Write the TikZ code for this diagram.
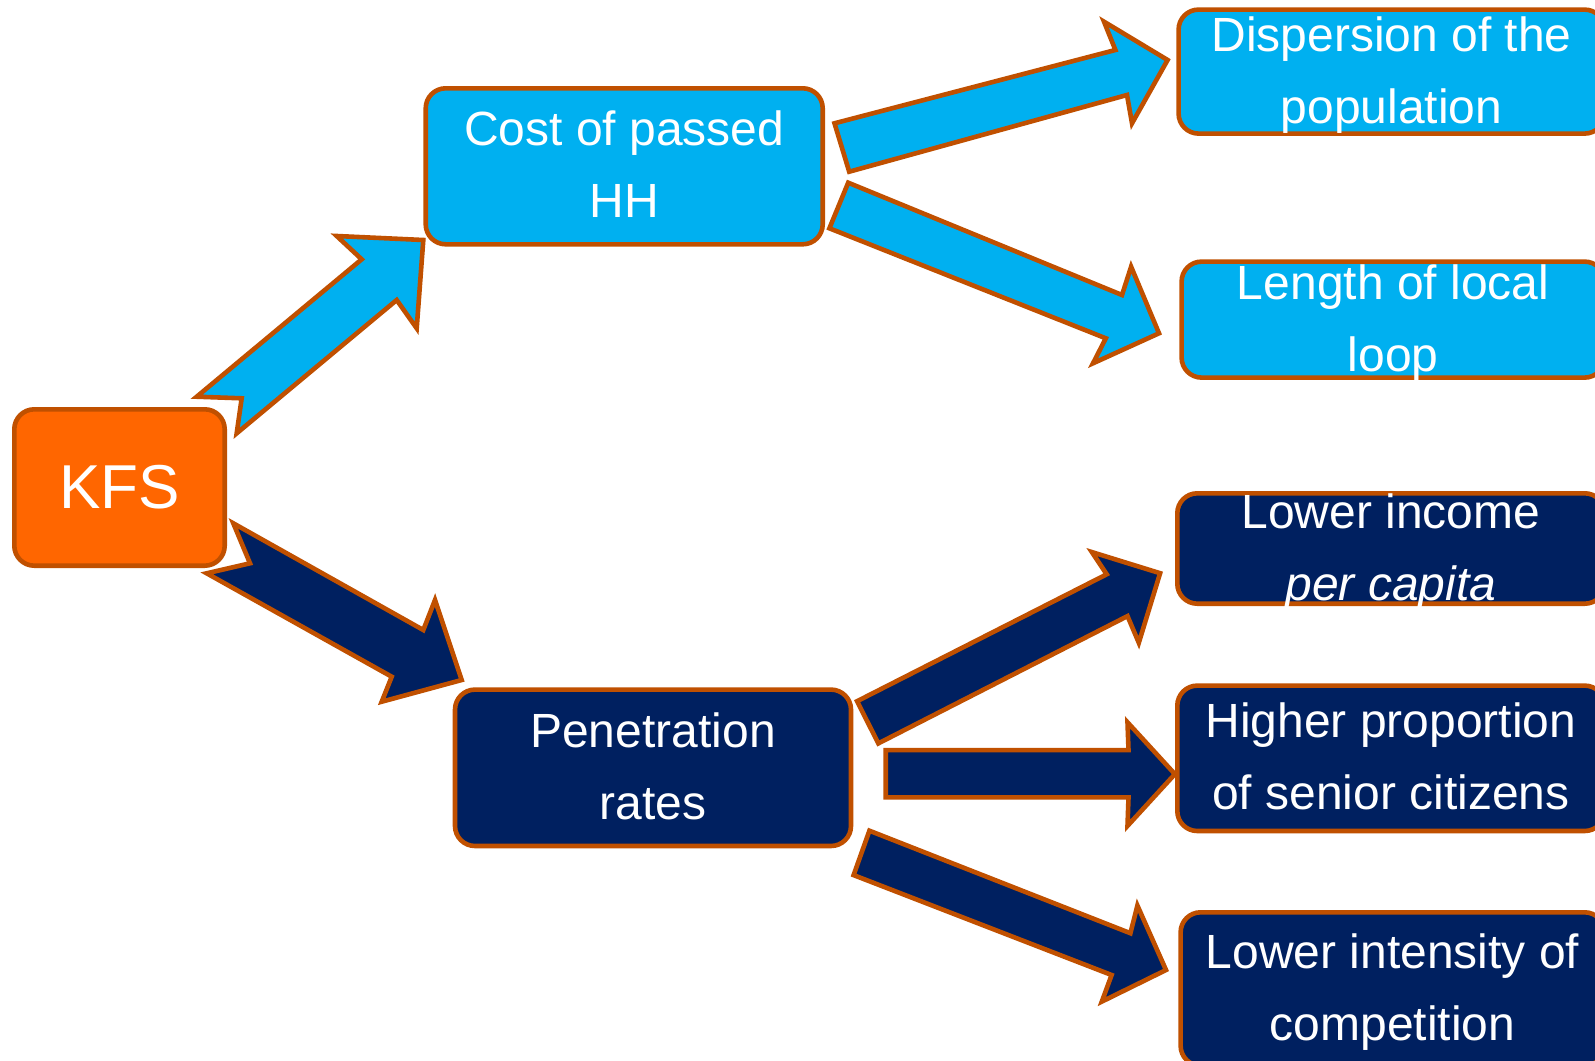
\documentclass[tikz,border=0pt]{standalone}
\usepackage{fontspec}
\setmainfont{Liberation Sans}
\definecolor{edgebrown}{HTML}{C05000}
\definecolor{skyfill}{HTML}{00B0F0}
\definecolor{navyfill}{HTML}{002060}
\definecolor{kfsorange}{HTML}{FF6600}
% two centred lines with a fixed line box (first-line height, last-line depth)
\newcommand\twolines[2]{\rule{0pt}{41pt}#1\\#2\rule[-10pt]{0pt}{10pt}}
\begin{document}
\begin{tikzpicture}[x=1pt,y=-1pt,
  box/.style={draw=edgebrown, line width=4.6pt, rounded corners=20pt, inner sep=0pt},
  skybox/.style={box, fill=skyfill},
  navybox/.style={box, fill=navyfill},
  caption/.style={inner sep=0pt, text=white, align=center, font=\fontsize{48}{72}\selectfont},
  blockarrow/.style={draw=edgebrown, line width=4.6pt, line join=miter, miter limit=10},
  skyarrow/.style={blockarrow, fill=skyfill},
  navyarrow/.style={blockarrow, fill=navyfill}]
\useasboundingbox (0,0) rectangle (1595,1060);
\fill[white] (0,0) rectangle (1595,1060);
\clip (0,0) rectangle (1595,1060);

% boxes
\node[box, fill=kfsorange, minimum width=210.4pt, minimum height=156.4pt] (kfs) at (119.5,487.5) {};
\node[skybox, minimum width=397pt, minimum height=156pt] (cost) at (624.2,166.3) {};
\node[navybox, minimum width=396pt, minimum height=156.4pt] (pen) at (653,767.8) {};
\node[skybox, minimum width=426pt, minimum height=124pt] (disp) at (1391.6,71.6) {};
\node[skybox, minimum width=423pt, minimum height=116pt] (loop) at (1393.1,319.6) {};
\node[navybox, minimum width=427.4pt, minimum height=110.4pt] (income) at (1391,548.5) {};
\node[navybox, minimum width=427.4pt, minimum height=145.4pt] (senior) at (1391,758.3) {};
\node[navybox, minimum width=424pt, minimum height=153.4pt] (compet) at (1392.6,989) {};

% box texts
\node[caption, font=\fontsize{62}{72}\selectfont] (kfs-t) at (kfs.center) {KFS};
\node[caption] (cost-t) at (cost.center) {\twolines{Cost of passed}{HH}};
\node[caption] (pen-t) at (pen.center) {\twolines{Penetration}{rates}};
\node[caption] (disp-t) at (disp.center) {\twolines{Dispersion of the}{population}};
\node[caption] (loop-t) at (loop.center) {\twolines{Length of local}{loop}};
\node[caption] (income-t) at (income.center) {\twolines{Lower income}{\textit{per capita}}};
\node[caption] (senior-t) at (senior.center) {\twolines{Higher proportion}{of senior citizens}};
\node[caption] (compet-t) at (compet.center) {\twolines{Lower intensity of}{competition}};

% block arrows: KFS to the two drivers
\draw[skyarrow] (196.7,396.7) -- (361.7,259.3) -- (336.7,236) -- (423.3,240)
  -- (416.7,328.3) -- (396.7,300) -- (236.7,433.3) -- (241.7,398.3) -- cycle;
\draw[navyarrow] (233.3,523.3) -- (423.3,630) -- (435,600) -- (461.7,680)
  -- (381.7,701.7) -- (391.7,676.7) -- (206.7,573.3) -- (250,563.3) -- cycle;

% block arrows: cost of passed HH
\draw[skyarrow] (834.5,123.3) -- (1115.4,50) -- (1104,21.7) -- (1167.6,60)
  -- (1132,123.3) -- (1127,95) -- (849.2,171.7) -- cycle;
\draw[skyarrow] (848.2,182.7) -- (1122,295) -- (1131.1,266.7) -- (1159,333.3)
  -- (1093,363.3) -- (1105.8,338.3) -- (829.4,228.3) -- cycle;

% block arrows: penetration rates
\draw[navyarrow] (857.1,701.2) -- (1106.7,574.3) -- (1091.9,552.1) -- (1160.1,573.2)
  -- (1138.8,642.8) -- (1127.5,616.1) -- (878.3,743.4) -- cycle;
\draw[navyarrow] (885.7,750.1) -- (1128.5,750.1) -- (1127.5,722.3) -- (1174.9,774.1)
  -- (1127.5,825.9) -- (1128.5,797.4) -- (885.7,797.4) -- cycle;
\draw[navyarrow] (869.4,830.7) -- (1130.4,933.2) -- (1137.4,905.5) -- (1166,970)
  -- (1101.8,1001.6) -- (1111.6,975) -- (853.6,875.1) -- cycle;
\end{tikzpicture}
\end{document}
